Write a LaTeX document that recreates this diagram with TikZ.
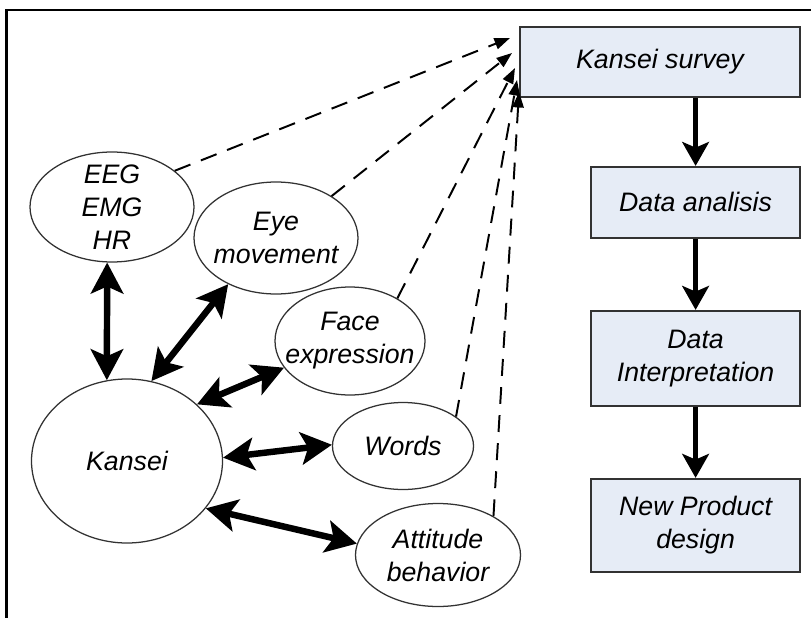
\documentclass[tikz,border=0pt]{standalone}
\usepackage{fontspec}
\setmainfont{Liberation Sans}
\usetikzlibrary{shapes.geometric,positioning,arrows.meta}
\definecolor{boxfill}{RGB}{230,236,246}
\definecolor{edgegray}{RGB}{50,50,50}
\tikzset{
  every node/.style={font=\fontsize{19}{23.5}\selectfont\itshape},
  bubble/.style={ellipse,draw=edgegray,line width=0.9pt,inner sep=0pt},
  lbl/.style={align=center,inner sep=0pt},
  stepbox/.style={rectangle,draw=edgegray,fill=boxfill,line width=1.4pt,
    align=center,minimum width=5.225cm},
  link/.style={<->,>={Stealth[length=22pt,width=23pt,inset=5pt]},line width=4.6pt},
  flow/.style={->,>={Stealth[length=17pt,width=19pt,inset=4pt]},line width=3.5pt},
  feed/.style={->,>={Triangle[length=11pt,width=8pt]},dash pattern=on 12pt off 8pt,
    line width=1.4pt},
}

\begin{document}
\begin{tikzpicture}[node distance=1.775cm]
\useasboundingbox (0,0) rectangle (20.275,-15.45);
\draw[line width=2.1pt] (20.275,-0.25) -| (0.17,-15.45);

% measurements around kansei
\node[bubble,minimum width=4.1cm,minimum height=2.75cm,
  label={[lbl]center:{EEG\\EMG\\HR}}] (eeg) at (2.8,-5.175) {};
\node[bubble,minimum width=4.1cm,minimum height=2.8cm,
  label={[lbl]center:{Eye\\movement}}] (eye) at (6.9,-5.95) {};
\node[bubble,minimum width=3.75cm,minimum height=2.7cm,
  label={[lbl]center:{Face\\expression}}] (face) at (8.75,-8.525) {};
\node[bubble,minimum width=3.525cm,minimum height=2.175cm,
  label={[lbl]center:Words}] (words) at (10.075,-11.15) {};
\node[bubble,minimum width=4.125cm,minimum height=2.575cm,
  label={[lbl]center:{Attitude\\behavior}}] (att) at (10.95,-13.875) {};
\node[bubble,minimum width=4.775cm,minimum height=4.1cm,
  label={[lbl]center:Kansei}] (kansei) at (3.175,-11.525) {};

% process column
\node[stepbox,minimum width=7cm,minimum height=1.75cm] (ks) at (16.5,-1.55) {Kansei survey};
\node[stepbox,minimum height=1.775cm] (da) at (17.39,-5.06) {Data analisis};
\node[stepbox,minimum height=2.375cm,below=of da] (di) {Data\\Interpretation};
\node[stepbox,minimum height=2.325cm,below=of di] (np) {New Product\\design};

\draw[flow] (da.north |- ks.south) -- (da.north);
\draw[flow] (da) -- (di);
\draw[flow] (di) -- (np);

% dashed feeds into the survey
\coordinate (t1) at (12.75,-0.95);
\coordinate (t2) at (12.8,-1.325);
\coordinate (t3) at (12.875,-1.7);
\coordinate (t4) at (12.925,-2.0);
\coordinate (t5) at (12.975,-2.3);
\draw[feed] (eeg.30) -- (t1);
\draw[feed] (eye.37) -- (t2);
\draw[feed] (face.42) -- (t3);
\draw[feed] (words.29) -- (t4);
\draw[feed] (att.35) -- (t5);

\draw[link] (eeg.-95) -- (kansei.104);
\draw[link] (eye.-136) -- (kansei.73);
\draw[link] (face.202) -- (kansei.39);
\draw[link] (words.179) -- (kansei.2);
\draw[link] (att.172) -- (kansei.-31);
\end{tikzpicture}
\end{document}
